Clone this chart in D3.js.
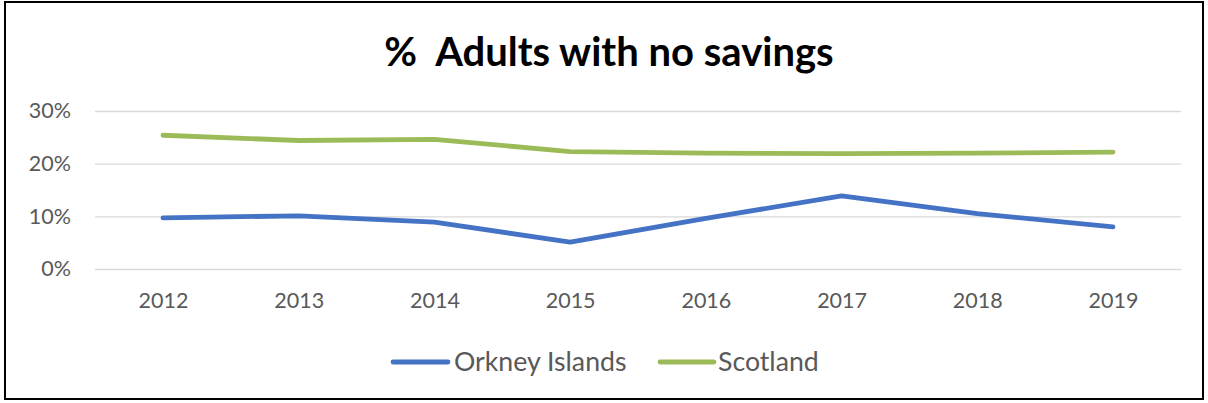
<!DOCTYPE html>
<html><head><meta charset="utf-8">
<script src="https://cdn.jsdelivr.net/npm/d3@7"></script>
<style>
body{margin:0;background:#fff;}
svg{display:block;font-family:Lato,"Open Sans",sans-serif;}
</style></head>
<body><svg id="c" width="1208" height="403"></svg>
<script>
const years = ["2012","2013","2014","2015","2016","2017","2018","2019"];
const orkney = [0.097, 0.101, 0.089, 0.051, 0.096, 0.139, 0.105, 0.080];
const scotland = [0.254, 0.244, 0.246, 0.223, 0.220, 0.219, 0.220, 0.222];
const yTicks = [0, 0.1, 0.2, 0.3];
const seriesNames = ["Orkney Islands", "Scotland"];
const colors = ["#4472C4", "#9BBB59"];
const FONT = "Lato, 'Open Sans', sans-serif";

const svg = d3.select("#c");
svg.append("rect").attr("x",5).attr("y",2).attr("width",1198).attr("height",397)
  .attr("fill","#fff").attr("stroke","#000").attr("stroke-width",2);

const x = d3.scalePoint().domain(years).range([163,1113]);
const y = d3.scaleLinear().domain([0,0.3]).range([269,111]);

svg.append("text").attr("x",609).attr("y",66).attr("text-anchor","middle")
  .attr("font-size",40).attr("font-weight","bold").attr("fill","#000")
  .attr("xml:space","preserve").text("%  Adults with no savings");

const yAxis = d3.axisLeft(y).tickValues(yTicks).tickFormat(d3.format(".0%"))
  .tickSize(-(1181-95)).tickPadding(24);
const gy = svg.append("g").attr("transform","translate(95,0)").call(yAxis)
  .attr("font-family",FONT);
gy.select(".domain").remove();
gy.selectAll(".tick line").attr("stroke","#d9d9d9").attr("stroke-width",1.3);
gy.selectAll(".tick text").attr("fill","#595959").attr("font-size",21.5);

const xAxis = d3.axisBottom(x).tickSize(0).tickPadding(24);
const gx = svg.append("g").attr("transform","translate(0,269)").call(xAxis)
  .attr("font-family",FONT);
gx.select(".domain").remove();
gx.selectAll(".tick text").attr("fill","#595959").attr("font-size",21.5);

const line = d3.line().x((d,i)=>x(years[i])).y(d=>y(d));
[orkney, scotland].forEach((s,k)=>{
  svg.append("path").datum(s).attr("d",line).attr("fill","none")
    .attr("stroke",colors[k]).attr("stroke-width",4.8)
    .attr("stroke-linejoin","round").attr("stroke-linecap","round");
});

const leg = [{x1:393,x2:448,tx:454},{x1:660,x2:714,tx:718}];
seriesNames.forEach((n,k)=>{
  svg.append("line").attr("x1",leg[k].x1).attr("x2",leg[k].x2).attr("y1",362).attr("y2",362)
    .attr("stroke",colors[k]).attr("stroke-width",4.8).attr("stroke-linecap","round");
  svg.append("text").attr("x",leg[k].tx).attr("y",371).attr("font-size",26.7)
    .attr("fill","#595959").text(n);
});
</script></body></html>
